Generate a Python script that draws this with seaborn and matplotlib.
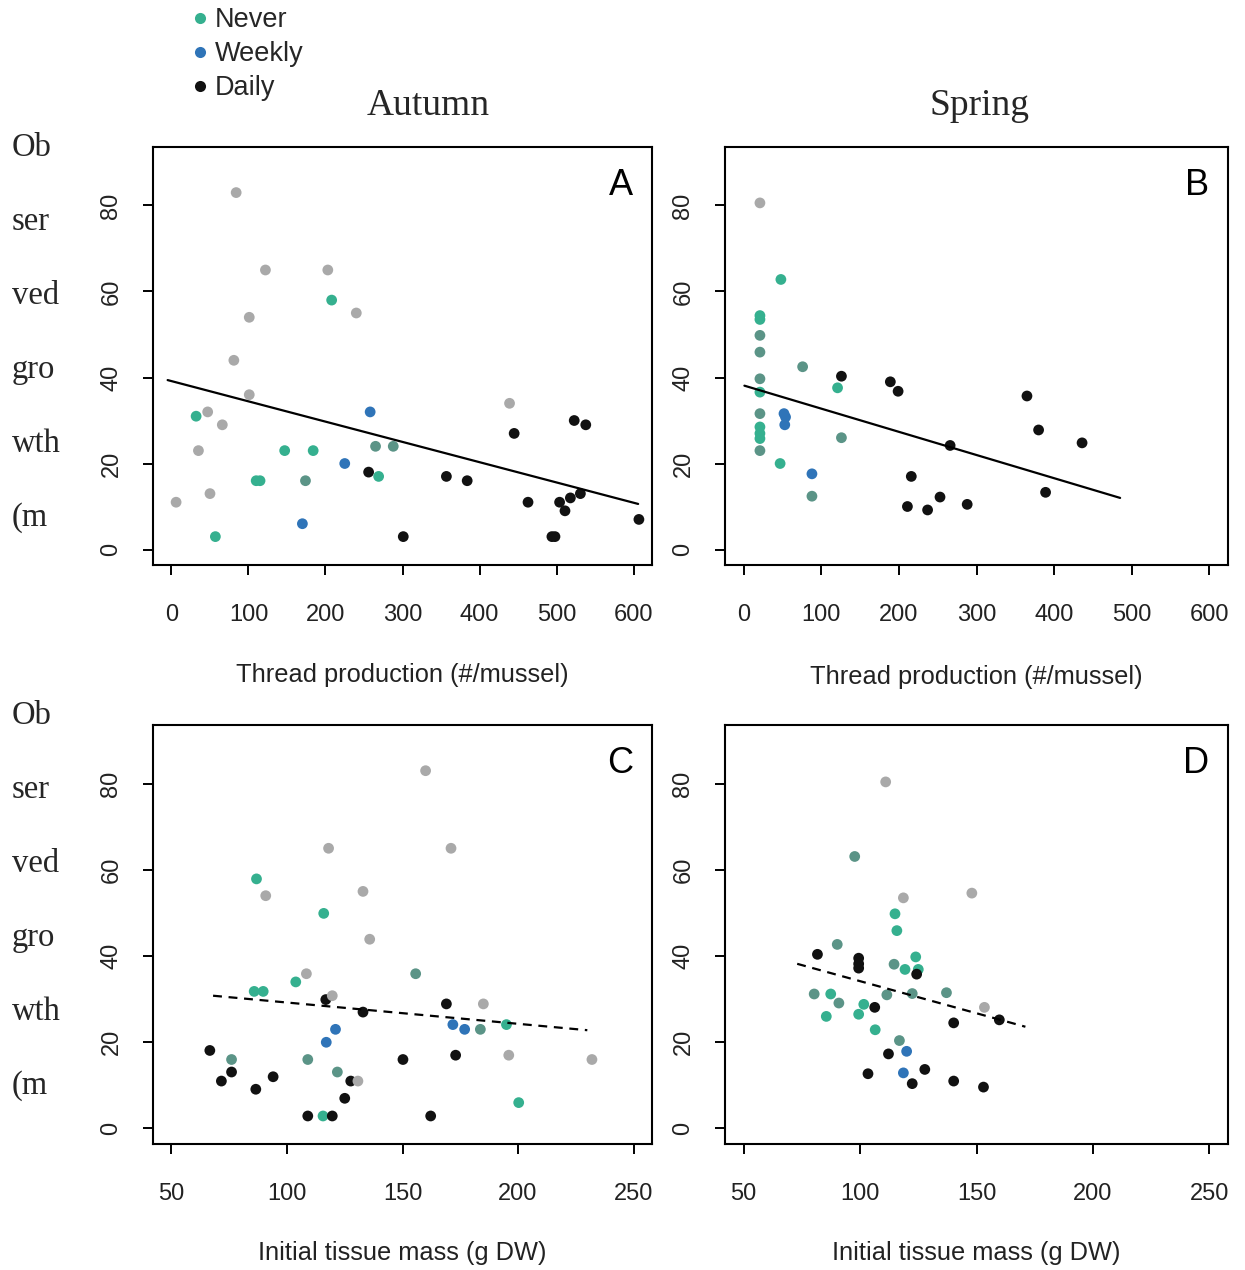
import matplotlib
matplotlib.use("Agg")
import matplotlib.pyplot as plt
from matplotlib.lines import Line2D
import seaborn as sns
import pandas as pd

# ---------------- data ----------------
A_x = [84,122,203,208,240,101,81,101,47,32,66,35,50,6,57,110,115,147,184,174,170,258,225,256,269,265,288,301,357,384,439,445,523,538,463,504,511,518,531,494,498,607]
A_y = [83,65,65,58,55,54,44,36,32,31,29,23,13,11,3,16,16,23,23,16,6,32,20,18,17,24,24,3,17,16,34,27,30,29,11,11,9,12,13,3,3,7]
A_g = ["G","G","G","N","G","G","G","G","G","N","G","G","G","G","N","N","N","N","N","M","W","W","W","D","N","M","M","D","D","D","G","D","D","D","D","D","D","D","D","D","D","D"]

B_x = [21,48,21,21,21,21,21,21,21,21,21,21,21,52,54,53,47,88,88,76,126,121,126,189,199,266,216,211,237,253,288,365,380,436,389]
B_y = [80.6,62.8,54.4,53.5,49.8,45.9,39.7,36.6,31.6,28.5,27,25.8,23,31.6,30.8,29,20,17.6,12.4,42.5,40.3,37.6,26,39,36.8,24.2,17,10,9.2,12.2,10.5,35.7,27.8,24.8,13.3]
B_g = ["G","N","N","N","M","M","M","N","M","N","N","N","M","W","W","W","N","W","M","M","D","N","M","D","D","D","D","D","D","D","D","D","D","D","D"]

C_x = [160,118,171,86.8,90.8,115.9,132.9,135.8,108.4,103.8,155.7,85.8,89.7,116.8,119.6,169,185,132.9,171.8,176.9,183.7,195,121,117,66.6,76,109,150.2,173,196,232,76,71.6,86.5,94,121.8,127.6,130.7,125,109,115.6,119.6,162.2,200.3]
C_y = [83,65,65,57.9,54,49.9,55,43.9,35.9,34,35.9,31.8,31.8,29.9,30.8,28.9,28.9,27,24.1,23,23,24.1,23,20,18.1,16,16,16,17,17,16,13.1,11,9.1,12,13.1,11,11,7,2.9,2.9,2.9,2.9,6]
C_g = ["G","G","G","N","G","N","G","G","G","N","M","N","N","D","G","D","G","D","W","W","M","N","W","W","D","M","M","D","D","G","G","D","D","D","D","M","D","G","D","D","N","D","D","N"]

D_x = [111,97.7,118.6,148,115,115.8,90.2,81.7,99.4,99.4,99.4,123.9,114.6,119.3,125,124.3,80.3,87.4,90.9,85.5,99.4,101.6,106.3,111.5,122.4,137.1,106.5,153.4,159.8,140.2,116.9,120,112.2,118.6,103.4,127.8,122.4,140.2,153]
D_y = [80.4,63.1,53.5,54.6,49.8,45.9,42.7,40.4,39.5,38.2,37.2,39.8,38.1,36.9,36.9,35.8,31.2,31.2,29.1,26,26.5,28.8,28.1,31,31.3,31.5,22.9,28.1,25.2,24.5,20.4,17.9,17.3,12.9,12.7,13.7,10.4,11,9.6]
D_g = ["G","M","G","G","N","N","M","D","D","D","D","N","M","N","N","D","M","N","M","N","N","N","D","M","M","M","N","G","D","D","M","W","D","W","D","D","D","D","D"]

# fitted trend lines (end points)
fitA_x = [-5, 606];  fitA_y = [39.4, 10.6]
fitB_x = [1, 485];   fitB_y = [38.1, 12.0]
fitC_x = [68, 230];  fitC_y = [30.8, 22.8]
fitD_x = [73, 171];  fitD_y = [38.2, 23.6]

legend_labels = ["Never", "Weekly", "Daily"]
season_titles = ["Autumn", "Spring"]
panel_letters = ["A", "B", "C", "D"]
xlabel_top = "Thread production (#/mussel)"
xlabel_bottom = "Initial tissue mass (g DW)"
ylabel_pieces = ["Ob", "ser", "ved", "gro", "wth", "(m"]
xticks_top = [0, 100, 200, 300, 400, 500, 600]
xticks_bottom = [50, 100, 150, 200, 250]
yticks = [0, 20, 40, 60, 80]

# ---------------- style ----------------
sns.set_theme(style="ticks")
plt.rcParams["font.family"] = ["Liberation Sans", "DejaVu Sans"]

palette = {"N": "#35b08f", "M": "#5b9487", "W": "#2f74b8", "D": "#111111", "G": "#a9a9a9"}

W, H = 1245, 1270
fig = plt.figure(figsize=(W / 100, H / 100), dpi=100)

boxes = {
    "A": (153, 147, 652, 565),
    "B": (725, 147, 1228, 565),
    "C": (153, 725, 652, 1144),
    "D": (725, 725, 1228, 1144),
}

panels = [
    ("A", A_x, A_y, A_g, fitA_x, fitA_y, "-", xticks_top, (-24, 624), xlabel_top, 675),
    ("B", B_x, B_y, B_g, fitB_x, fitB_y, "-", xticks_top, (-24, 624), xlabel_top, 677),
    ("C", C_x, C_y, C_g, fitC_x, fitC_y, (0, (4, 3)), xticks_bottom, (42, 258), xlabel_bottom, 1253),
    ("D", D_x, D_y, D_g, fitD_x, fitD_y, (0, (4, 3)), xticks_bottom, (42, 258), xlabel_bottom, 1253),
]

for name, xs, ys, gs, fx, fy, ls, xt, xl, xlab, laby in panels:
    l, t, r, b = boxes[name]
    ax = fig.add_axes([l / W, 1 - b / H, (r - l) / W, (b - t) / H])
    df = pd.DataFrame({"x": xs, "y": ys, "g": gs})
    sns.scatterplot(data=df, x="x", y="y", hue="g", palette=palette, s=60,
                    edgecolor="none", legend=False, ax=ax, zorder=3)
    fit = pd.DataFrame({"x": fx, "y": fy})
    sns.lineplot(data=fit, x="x", y="y", color="black", linewidth=1.6,
                 linestyle=ls, ax=ax, zorder=4)
    ax.set_xlim(*xl)
    ax.set_ylim(-3.6, 93.6)
    ax.set_xticks(xt)
    ax.set_yticks(yticks)
    ax.set_yticklabels([str(v) for v in yticks], rotation=90, va="center")
    ax.tick_params(axis="both", direction="out", length=7, width=1.4,
                   labelsize=17, colors="black", labelcolor="#222222")
    ax.tick_params(axis="x", pad=21)
    ax.tick_params(axis="y", pad=15)
    for sp in ax.spines.values():
        sp.set_visible(True)
        sp.set_linewidth(1.5)
        sp.set_color("black")
    ax.set_xlabel(xlab, fontsize=18.3, color="#222222", va="center")
    ax.xaxis.set_label_coords(0.5, -(laby - b) / (b - t))
    ax.set_ylabel("")
    ax.text(0.962, 0.909, name, transform=ax.transAxes, fontsize=26,
            ha="right", va="center", color="black")

# season titles
fig.text(428 / W, 1 - 106 / H, season_titles[0], fontsize=27, ha="center", va="center",
         family=["Liberation Serif", "DejaVu Serif"])
fig.text(980 / W, 1 - 106 / H, season_titles[1], fontsize=27, ha="center", va="center",
         family=["Liberation Serif", "DejaVu Serif"])

# broken y labels
for y0 in (148, 716):
    for i, piece in enumerate(ylabel_pieces):
        fig.text(12 / W, 1 - (y0 + i * 74) / H, piece, fontsize=23.5, ha="left", va="center",
                 family=["Liberation Serif", "DejaVu Serif"])

# legend
handles = [Line2D([0], [0], marker="o", linestyle="none", markersize=8,
                  markerfacecolor=palette[k], markeredgecolor="none")
           for k in ["N", "W", "D"]]
fig.legend(handles, legend_labels, loc="upper left", bbox_to_anchor=(189 / W, 1 - 7 / H),
           frameon=False, fontsize=19.5, handletextpad=0.15, labelspacing=0.3,
           handlelength=0.8, borderaxespad=0, borderpad=0)

fig.savefig("out.png", dpi=100)
